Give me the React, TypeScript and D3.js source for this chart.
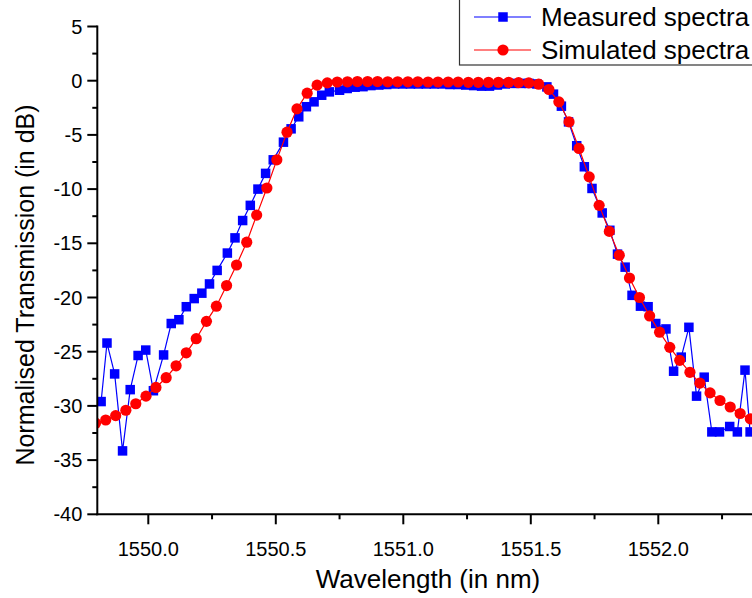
import React from "react";
import * as d3 from "d3";

const measuredX = [
  1549.815, 1549.838, 1549.868, 1549.899, 1549.929, 1549.96, 1549.99, 1550.02, 1550.06, 1550.09,
  1550.12, 1550.149, 1550.18, 1550.21, 1550.24, 1550.27, 1550.31, 1550.34, 1550.37, 1550.4,
  1550.43, 1550.46, 1550.49, 1550.53, 1550.56, 1550.59, 1550.62, 1550.65, 1550.68, 1550.71,
  1550.75, 1550.78, 1550.811, 1550.842, 1550.873, 1550.904, 1550.935, 1550.966, 1550.997, 1551.028,
  1551.059, 1551.09, 1551.121, 1551.152, 1551.183, 1551.214, 1551.245, 1551.276, 1551.307, 1551.338,
  1551.369, 1551.4, 1551.431, 1551.462, 1551.493, 1551.524, 1551.563, 1551.589, 1551.62, 1551.648,
  1551.68, 1551.71, 1551.74, 1551.78, 1551.81, 1551.84, 1551.87, 1551.897, 1551.93, 1551.96,
  1551.99, 1552.03, 1552.06, 1552.09, 1552.12, 1552.15, 1552.18, 1552.21, 1552.24, 1552.28,
  1552.31, 1552.34, 1552.36,
];
const measuredY = [
  -29.6, -24.2, -27.05, -34.15, -28.5, -25.35, -24.85, -28.6, -25.3, -22.4,
  -22.05, -20.85, -20.1, -19.6, -18.75, -17.5, -15.9, -14.5, -12.9, -11.5,
  -10.0, -8.55, -7.3, -5.67, -4.44, -3.33, -2.4, -1.95, -1.34, -1.03,
  -0.88, -0.72, -0.6, -0.55, -0.45, -0.4, -0.35, -0.3, -0.3, -0.3,
  -0.3, -0.3, -0.3, -0.3, -0.35, -0.35, -0.4, -0.45, -0.5, -0.5,
  -0.4, -0.3, -0.25, -0.25, -0.25, -0.3, -0.57, -1.24, -2.35, -3.8,
  -6.0, -7.94, -9.94, -12.2, -13.8, -16.0, -17.2, -19.8, -20.8, -20.85,
  -22.4, -22.9, -26.8, -25.5, -22.75, -29.1, -27.35, -32.4, -32.4, -31.9,
  -32.4, -26.7, -32.4,
];

const simulatedX = [
  1549.793, 1549.833, 1549.872, 1549.912, 1549.951, 1549.991, 1550.03, 1550.07, 1550.109, 1550.149,
  1550.188, 1550.228, 1550.267, 1550.307, 1550.346, 1550.386, 1550.425, 1550.465, 1550.504, 1550.544,
  1550.583, 1550.623, 1550.662, 1550.702, 1550.741, 1550.781, 1550.82, 1550.86, 1550.899, 1550.939,
  1550.978, 1551.018, 1551.057, 1551.097, 1551.136, 1551.176, 1551.215, 1551.255, 1551.294, 1551.334,
  1551.373, 1551.413, 1551.452, 1551.492, 1551.531, 1551.571, 1551.61, 1551.65, 1551.689, 1551.729,
  1551.768, 1551.808, 1551.847, 1551.887, 1551.926, 1551.966, 1552.005, 1552.045, 1552.084, 1552.124,
  1552.163, 1552.203, 1552.242, 1552.282, 1552.321, 1552.361,
];
const simulatedY = [
  -31.6, -31.3, -30.9, -30.4, -29.8, -29.1, -28.3, -27.4, -26.3, -25.1,
  -23.8, -22.2, -20.8, -18.9, -17.0, -14.9, -12.4, -9.9, -7.3, -4.75,
  -2.6, -1.15, -0.41, -0.2, -0.12, -0.1, -0.08, -0.08, -0.08, -0.1,
  -0.1, -0.1, -0.1, -0.12, -0.12, -0.12, -0.12, -0.15, -0.15, -0.15,
  -0.15, -0.15, -0.18, -0.2, -0.32, -0.81, -1.95, -3.8, -6.25, -8.87,
  -11.5, -13.9, -16.1, -18.2, -20.0, -21.7, -23.2, -24.6, -25.8, -26.9,
  -27.9, -28.8, -29.5, -30.1, -30.7, -31.2,
];

const xMajorTicks = [1550.0, 1550.5, 1551.0, 1551.5, 1552.0];
const xMinorTicks = [1550.25, 1550.75, 1551.25, 1551.75, 1552.25];
const yMajorTicks = [5, 0, -5, -10, -15, -20, -25, -30, -35, -40];
const yMinorTicks = [2.5, -2.5, -7.5, -12.5, -17.5, -22.5, -27.5, -32.5, -37.5];
const seriesNames = ["Measured spectra", "Simulated spectra"];

const W = 752;
const H = 598;
const left = 97.3;
const top = 26.5;
const bottom = 514.3;
const FONT = "'Liberation Sans', Arial, sans-serif";

export default function App() {
  const x = d3.scaleLinear().domain([1549.8, 1552.4]).range([left, left + 2.6 * 255]);
  const y = d3.scaleLinear().domain([-40, 5]).range([bottom, top]);
  const right = x(1552.4);

  const meas = measuredX.map((v, i) => [v, measuredY[i]] as [number, number]);
  const sim = simulatedX.map((v, i) => [v, simulatedY[i]] as [number, number]);
  const line = d3.line<[number, number]>().x((d) => x(d[0])).y((d) => y(d[1]));

  const sq = 9.5;
  const r = 5.6;

  return (
    <svg width={W} height={H} style={{ position: "absolute", left: 0, top: 0, background: "#fff" }}>
      <defs>
        <clipPath id="plot">
          <rect x={left} y={top - 10} width={right - left} height={bottom - top + 10} />
        </clipPath>
      </defs>
      <rect x={0} y={0} width={W} height={H} fill="#fff" />
      <g clipPath="url(#plot)">
        <path d={line(meas) || ""} fill="none" stroke="#0000ff" strokeWidth={1.2} />
        {meas.map((d, i) => (
          <rect key={"m" + i} x={x(d[0]) - sq / 2} y={y(d[1]) - sq / 2} width={sq} height={sq} fill="#0000ff" />
        ))}
        <path d={line(sim) || ""} fill="none" stroke="#ff0000" strokeWidth={1.2} />
        {sim.map((d, i) => (
          <circle key={"s" + i} cx={x(d[0])} cy={y(d[1])} r={r} fill="#ff0000" />
        ))}
      </g>

      {/* axes */}
      <line x1={left} x2={left} y1={top - 1} y2={bottom + 1} stroke="#000" strokeWidth={2} />
      <line x1={left - 1} x2={right} y1={bottom} y2={bottom} stroke="#000" strokeWidth={2} />
      {yMajorTicks.map((t) => (
        <g key={"ym" + t}>
          <line x1={left - 10} x2={left} y1={y(t)} y2={y(t)} stroke="#000" strokeWidth={2} />
          <text x={left - 15} y={y(t)} dy="0.35em" textAnchor="end" fontFamily={FONT} fontSize={20}>
            {t}
          </text>
        </g>
      ))}
      {yMinorTicks.map((t) => (
        <line key={"yn" + t} x1={left - 5} x2={left} y1={y(t)} y2={y(t)} stroke="#000" strokeWidth={2} />
      ))}
      {xMajorTicks.map((t) => (
        <g key={"xm" + t}>
          <line x1={x(t)} x2={x(t)} y1={bottom} y2={bottom + 10} stroke="#000" strokeWidth={2} />
          <text x={x(t)} y={556} textAnchor="middle" fontFamily={FONT} fontSize={20}>
            {t.toFixed(1)}
          </text>
        </g>
      ))}
      {xMinorTicks.map((t) => (
        <line key={"xn" + t} x1={x(t)} x2={x(t)} y1={bottom} y2={bottom + 5} stroke="#000" strokeWidth={2} />
      ))}

      <text x={428} y={588} textAnchor="middle" fontFamily={FONT} fontSize={26}>
        Wavelength (in nm)
      </text>
      <text
        transform={`translate(34,285) rotate(-90)`}
        textAnchor="middle"
        fontFamily={FONT}
        fontSize={25}
      >
        Normalised Transmission (in dB)
      </text>

      {/* legend */}
      <rect x={459.5} y={-5} width={320} height={70} fill="#fff" stroke="#333" strokeWidth={1.2} />
      <line x1={474} x2={531} y1={17} y2={17} stroke="#0000ff" strokeWidth={1.2} />
      <rect x={503 - sq / 2} y={17 - sq / 2} width={sq} height={sq} fill="#0000ff" />
      <text x={541} y={26} fontFamily={FONT} fontSize={26}>
        {seriesNames[0]}
      </text>
      <line x1={474} x2={531} y1={50} y2={50} stroke="#ff0000" strokeWidth={1.2} />
      <circle cx={503} cy={50} r={r} fill="#ff0000" />
      <text x={541} y={59} fontFamily={FONT} fontSize={26}>
        {seriesNames[1]}
      </text>
    </svg>
  );
}
